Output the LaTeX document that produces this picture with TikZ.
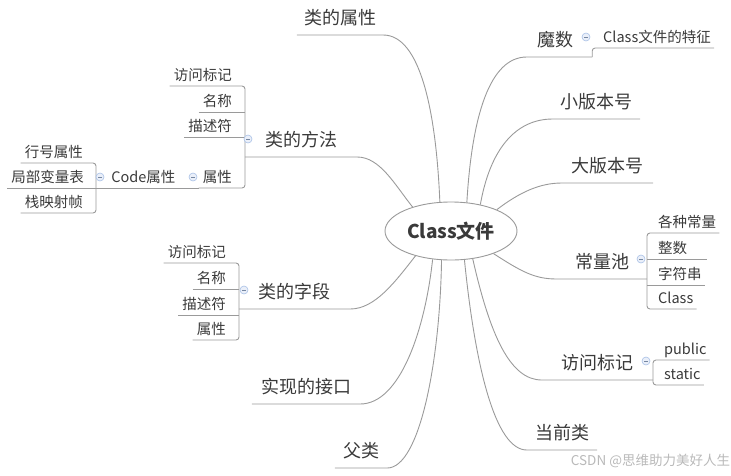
\documentclass[tikz,border=0pt]{standalone}
\usepackage{fontspec}
\setmainfont{Noto Sans CJK SC}
\usetikzlibrary{shapes.geometric}
\definecolor{linegray}{HTML}{9A9A9A}
\definecolor{txtgray}{HTML}{3A3A3A}
\definecolor{foldblue}{HTML}{A9C1E6}

\begin{document}
\begin{tikzpicture}[
    x=1pt, y=-1pt,
    branch/.style={draw=linegray, line width=0.9pt},
    root/.style={ellipse, draw=linegray, line width=0.9pt, fill=white, minimum width=132pt, minimum height=58pt, inner sep=0pt, font=\fontsize{19}{22}\selectfont\bfseries, text=txtgray},
    topic/.style={anchor=south, inner xsep=0pt, inner ysep=8.5pt, text height=15.8pt, text depth=2.2pt, font=\fontsize{18}{20}\selectfont, text=txtgray},
    kid/.style={inner xsep=0pt, inner ysep=3.75pt, text height=12.8pt, text depth=1.7pt, font=\fontsize{14.5}{16}\selectfont, text=txtgray},
    lkid/.style={kid, anchor=south east, execute at begin node=\hspace{4pt}, execute at end node=\hspace{13pt}},
    rkid/.style={kid, anchor=south west, execute at begin node=\hspace{11pt}, execute at end node=\hspace{3pt}},
    fold/.style={circle, draw=foldblue, fill=foldblue!25, line width=0.6pt, minimum size=8pt, inner sep=0pt,
        path picture={\draw[foldblue!70!black, line width=0.5pt] ([xshift=-2pt]path picture bounding box.center) -- ([xshift=2pt]path picture bounding box.center);}},
]
\useasboundingbox (0,0) rectangle (731,475);

\node[root] (cls) at (451,231) {Class文件};

% left side
\node[topic, minimum width=86pt] (attr) at (340,35) {类的属性};
\node[topic, minimum width=112pt] (method) at (301,157) {类的方法};
\node[topic, minimum width=111pt] (field) at (294.5,309) {类的字段};
\node[topic, minimum width=108pt] (iface) at (306,404) {实现的接口};
\node[topic, minimum width=52pt] (parent) at (361,468) {父类};

% right side
\node[topic, minimum width=65pt, execute at end node=\hspace{9pt}] (magic) at (559.5,57) {魔数};
\node[topic, minimum width=87pt] (minor) at (596.5,119) {小版本号};
\node[topic, minimum width=91pt] (major) at (607.5,183) {大版本号};
\node[topic, minimum width=90pt] (pool) at (602,279) {常量池};
\node[topic, minimum width=111pt] (access) at (597.5,380) {访问标记};
\node[topic, minimum width=70pt] (this) at (562,450) {当前类};

\draw[branch] (cls.111) .. controls (436,110) and (420,35) .. (attr.south east) -- (attr.south west);
\draw[branch] (cls.148) .. controls (395,185) and (380,157) .. (method.south east) -- (method.south west);
\draw[branch] (cls.-145) .. controls (395,282) and (375,309) .. (field.south east) -- (field.south west);
\draw[branch] (cls.-123) .. controls (425,330) and (400,404) .. (iface.south east) -- (iface.south west);
\draw[branch] (cls.-108) .. controls (440,360) and (420,468) .. (parent.south east) -- (parent.south west);
\draw[branch] (cls.61) .. controls (472,115) and (490,57) .. (magic.south west) -- (magic.south east);
\draw[branch] (cls.42) .. controls (490,150) and (515,119) .. (minor.south west) -- (minor.south east);
\draw[branch] (cls.25) .. controls (520,192) and (540,183) .. (major.south west) -- (major.south east);
\draw[branch] (cls.-28) .. controls (522,272) and (535,279) .. (pool.south west) -- (pool.south east);
\draw[branch] (cls.-52) .. controls (490,335) and (510,380) .. (access.south west) -- (access.south east);
\draw[branch] (cls.-65) .. controls (475,365) and (495,450) .. (this.south west) -- (this.south east);

% method children
\node[lkid] (mAcc) at (245,86) {访问标记};
\node[lkid] (mName) at (245,112) {名称};
\node[lkid] (mDesc) at (245,137) {描述符};
\node[lkid] (mAttr) at (245,188) {属性};
\node[kid, anchor=south east, execute at begin node=\hspace{14pt}, execute at end node=\hspace{23pt}] (code) at (mAttr.south west) {Code属性};
\node[lkid] (cLine) at (96,163) {行号属性};
\node[lkid] (cLocal) at (code.south west) {局部变量表};
\node[lkid] (cStack) at (96,213) {栈映射帧};

\draw[branch, rounded corners=3pt] (mAcc.south west) -- (mAcc.south east) -- (mAttr.south east) -- (mAttr.south west);
\draw[branch] (mName.south west) -- (mName.south east);
\draw[branch] (mDesc.south west) -- (mDesc.south east);
\draw[branch] (cLocal.south west) -- (code.south east);
\draw[branch, rounded corners=3pt] (cLine.south west) -- (cLine.south east) -- (cStack.south east) -- (cStack.south west);

% field children
\node[lkid] (fAcc) at (239,263) {访问标记};
\node[lkid] (fName) at (239,289) {名称};
\node[lkid] (fDesc) at (239,315) {描述符};
\node[lkid] (fAttr) at (239,340) {属性};

\draw[branch, rounded corners=3pt] (fAcc.south west) -- (fAcc.south east) -- (fAttr.south east) -- (fAttr.south west);
\draw[branch] (fName.south west) -- (fName.south east);
\draw[branch] (fDesc.south west) -- (fDesc.south east);

% magic child
\node[rkid] (feat) at (592,48) {Class文件的特征};
\draw[branch, rounded corners=3pt] (magic.south east) |- (feat.south east);

% pool children
\node[rkid] (pAll) at (647,233) {各种常量};
\node[rkid, execute at end node=\hspace{17pt}] (pInt) at (647,259) {整数};
\node[rkid] (pStr) at (647,285) {字符串};
\node[rkid] (pCls) at (647,309) {Class};

\draw[branch, rounded corners=3pt] (pAll.south east) -- (pAll.south west) -- (pCls.south west) -- (pCls.south east);
\draw[branch] (pInt.south west) -- (pInt.south east);
\draw[branch] (pStr.south west) -- (pStr.south east);

% access children
\node[rkid] (aPub) at (653,360) {public};
\node[rkid] (aSta) at (653,385) {static};
\draw[branch, rounded corners=3pt] (aPub.south east) -- (aPub.south west) -- (aSta.south west) -- (aSta.south east);

% fold markers
\node[fold] (foldMagic) at (586,37) {};
\node[fold] (foldMethod) at (248,139) {};
\node[fold] (foldMAttr) at (193,177) {};
\node[fold] (foldCode) at (100,177) {};
\node[fold] (foldField) at (244,290) {};
\node[fold] (foldPool) at (641,259) {};
\node[fold] (foldAccess) at (646,361) {};

\node[font=\fontsize{13.5}{15}\selectfont, text=gray!55, inner sep=0pt] (mark) at (650.5,461) {CSDN @思维助力美好人生};
\end{tikzpicture}
\end{document}
